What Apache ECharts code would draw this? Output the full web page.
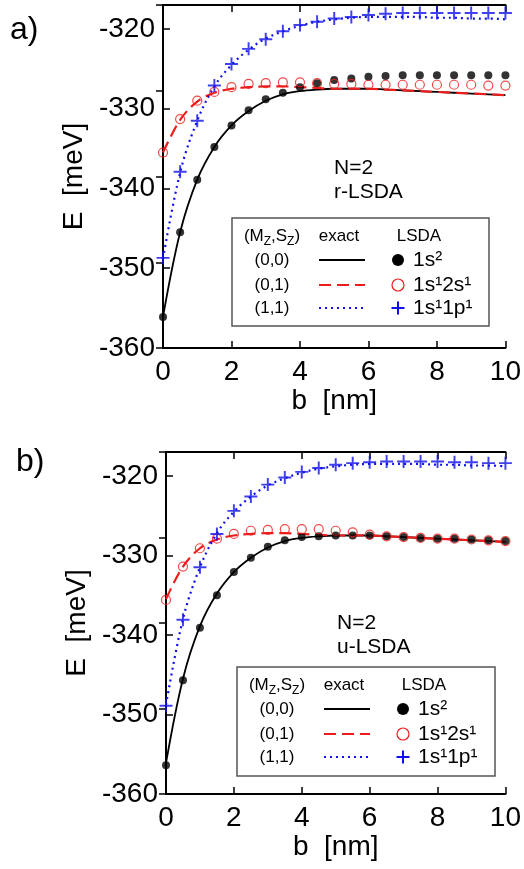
<!DOCTYPE html>
<html>
<head>
<meta charset="utf-8">
<script src="https://cdn.jsdelivr.net/npm/echarts@6/dist/echarts.min.js"></script>
<style>
html,body{margin:0;padding:0;background:#fff;}
#c{width:524px;height:869px;}
</style>
</head>
<body>
<div id="c"></div>
<script>
// ---- data ----
var b = [0,0.5,1,1.5,2,2.5,3,3.5,4,4.5,5,5.5,6,6.5,7,7.5,8,8.5,9,9.5,10];
var xTicks = [0,2,4,6,8,10];
var yTicks = [-360,-350,-340,-330,-320];

var exact00 = [-356.1,-345.5,-338.9,-334.8,-332.1,-330.3,-329.0,-328.2,-327.8,-327.6,-327.5,-327.5,-327.5,-327.6,-327.7,-327.8,-327.9,-328.0,-328.1,-328.2,-328.3];
var exact01 = [-335.5,-331.4,-329.1,-328.0,-327.5,-327.3,-327.2,-327.2,-327.3,-327.4,-327.5,-327.5,-327.5,-327.6,-327.7,-327.8,-327.9,-328.0,-328.1,-328.2,-328.3];
var exact11 = [-348.8,-338.0,-331.5,-327.2,-324.5,-322.6,-321.2,-320.3,-319.6,-319.1,-318.8,-318.6,-318.5,-318.5,-318.5,-318.5,-318.6,-318.6,-318.7,-318.7,-318.8];

var rLSDA_1s2    = [-356.1,-345.5,-338.9,-334.8,-332.1,-330.2,-328.8,-328.0,-327.3,-326.8,-326.4,-326.2,-326.0,-325.9,-325.8,-325.8,-325.8,-325.8,-325.8,-325.8,-325.8];
var rLSDA_1s12s1 = [-335.5,-331.3,-329.0,-327.9,-327.3,-326.9,-326.8,-326.7,-326.7,-326.8,-326.9,-326.9,-327.0,-327.0,-327.0,-327.0,-327.0,-327.0,-327.0,-327.1,-327.1];
var rLSDA_1s11p1 = [-348.7,-337.9,-331.5,-327.1,-324.4,-322.5,-321.3,-320.3,-319.5,-319.1,-318.7,-318.5,-318.25,-318.1,-318.0,-318.0,-318.0,-318.0,-318.0,-318.0,-318.0];

var uLSDA_1s2    = [-356.4,-345.7,-339.1,-335.0,-332.1,-330.3,-328.9,-328.1,-327.7,-327.6,-327.5,-327.5,-327.5,-327.6,-327.7,-327.8,-327.9,-327.9,-328.0,-328.1,-328.2];
var uLSDA_1s12s1 = [-335.6,-331.4,-329.1,-327.9,-327.3,-326.9,-326.8,-326.7,-326.7,-326.7,-326.9,-327.1,-327.4,-327.6,-327.7,-327.8,-327.9,-327.9,-328.0,-328.1,-328.2];
var uLSDA_1s11p1 = [-348.9,-338.1,-331.5,-327.3,-324.4,-322.6,-321.1,-320.2,-319.5,-319.0,-318.6,-318.4,-318.3,-318.2,-318.2,-318.2,-318.2,-318.3,-318.3,-318.4,-318.4];

var panelLabels = ['a)', 'b)'];
var methodLabels = ['r-LSDA', 'u-LSDA'];
var legendStates = ['(0,0)', '(0,1)', '(1,1)'];
var legendLSDA = ['1s\u00b2', '1s\u00b92s\u00b9', '1s\u00b91p\u00b9'];

// ---- styling ----
var FONT = 'Liberation Sans, Arial, Helvetica, sans-serif';
var PLUS = 'path://M8.5,0H11.5V8.5H20V11.5H11.5V20H8.5V11.5H0V8.5H8.5Z';
var BLUE = '#1010ee', RED = '#ee1c1c';

function pair(xs, ys){ return xs.map(function(x,i){ return [x, ys[i]]; }); }

var grids = [
  {left:163, top:5, width:343, height:343},
  {left:166, top:452, width:342, height:342}
];

var xAxes = [], yAxes = [], series = [];
grids.forEach(function(g, gi){
  xAxes.push({
    gridIndex:gi, type:'value', min:xTicks[0], max:xTicks[xTicks.length-1], interval:2, position:'bottom',
    name:'b  [nm]', nameLocation:'middle', nameGap:38,
    nameTextStyle:{fontFamily:FONT, fontSize:28, color:'#000'},
    axisLine:{lineStyle:{color:'#000', width:2}},
    axisTick:{inside:true, length:7, lineStyle:{color:'#000', width:1.5}},
    axisLabel:{fontFamily:FONT, fontSize:28, color:'#000', margin:10},
    splitLine:{show:false}
  });
  xAxes.push({
    gridIndex:gi, type:'value', min:0, max:10, interval:2, position:'top',
    axisLine:{lineStyle:{color:'#000', width:2}},
    axisTick:{inside:true, length:7, lineStyle:{color:'#000', width:1.5}},
    axisLabel:{show:false}, splitLine:{show:false}
  });
  yAxes.push({
    gridIndex:gi, type:'value', min:yTicks[0], max:-317, interval:10, position:'left',
    name:'E  [meV]', nameLocation:'middle', nameGap:70,
    nameTextStyle:{fontFamily:FONT, fontSize:28, color:'#000'},
    axisLine:{lineStyle:{color:'#000', width:2}},
    axisTick:{inside:true, length:7, lineStyle:{color:'#000', width:1.5}},
    axisLabel:{fontFamily:FONT, fontSize:28, color:'#000', margin:8, showMaxLabel:false},
    splitLine:{show:false}
  });
  yAxes.push({
    gridIndex:gi, type:'value', min:0, max:4, interval:1, position:'right',
    axisLine:{lineStyle:{color:'#000', width:2}},
    axisTick:{inside:true, length:7, lineStyle:{color:'#000', width:1.5}},
    axisLabel:{show:false}, splitLine:{show:false}
  });
});

function lineSeries(gi, ys, color, type, width){
  return {type:'line', xAxisIndex:gi*2, yAxisIndex:gi*2, data:pair(b, ys), showSymbol:false,
    smooth:0.35, lineStyle:{color:color, width:width, type:type}, z:2, silent:true, animation:false};
}
function dotSeries(gi, ys, symbol, size, style){
  return {type:'scatter', xAxisIndex:gi*2, yAxisIndex:gi*2, data:pair(b, ys), symbol:symbol,
    symbolSize:size, itemStyle:style, z:3, silent:true, animation:false};
}

var lsda = [[rLSDA_1s2, rLSDA_1s12s1, rLSDA_1s11p1],[uLSDA_1s2, uLSDA_1s12s1, uLSDA_1s11p1]];
[0,1].forEach(function(gi){
  series.push(lineSeries(gi, exact00, '#000', 'solid', 1.8));
  series.push(lineSeries(gi, exact01, RED, [12,6], 2.2));
  series.push(lineSeries(gi, exact11, BLUE, [2,4], 2.2));
  series.push(dotSeries(gi, lsda[gi][0], 'circle', 8, {color:'#000'}));
  series.push(dotSeries(gi, lsda[gi][1], 'circle', 9, {color:'rgba(0,0,0,0)', borderColor:RED, borderWidth:1.2}));
  series.push(dotSeries(gi, lsda[gi][2], PLUS, 13, {color:BLUE}));
});

// ---- annotations / legend table ----
var graphics = [];
var panelPos = [{lx:10, ly:14, nx:334, ny:168, bx:232, by:218, bw:257, bh:108},
                {lx:16, ly:446, nx:337, ny:623, bx:237, by:667, bw:258, bh:109}];
panelPos.forEach(function(p, gi){
  graphics.push({type:'text', left:p.lx, top:p.ly, style:{text:panelLabels[gi], font:'32px '+FONT, fill:'#000'}});
  graphics.push({type:'text', x:p.nx, y:p.ny, style:{text:'N=2', font:'21px '+FONT, fill:'#000', verticalAlign:'middle'}});
  graphics.push({type:'text', x:p.nx, y:p.ny+24, style:{text:methodLabels[gi], font:'21px '+FONT, fill:'#000', verticalAlign:'middle'}});
  graphics.push({type:'rect', shape:{x:p.bx, y:p.by, width:p.bw, height:p.bh},
    style:{fill:'#fff', stroke:'#555', lineWidth:1.5}, z:10});
  var X = p.bx, Y = p.by;
  graphics.push({type:'text', x:X+40, y:Y+18, z:11, style:{
    text:'{a|(M}{s|Z}{a|,S}{s|Z}{a|)}', align:'center', verticalAlign:'middle', fill:'#000',
    rich:{a:{fontFamily:FONT, fontSize:17, lineHeight:24, verticalAlign:'middle'},
          s:{fontFamily:FONT, fontSize:12, lineHeight:12, verticalAlign:'bottom'}}}});
  graphics.push({type:'text', x:X+107, y:Y+18, z:11, style:{text:'exact', font:'17px '+FONT, fill:'#000', align:'center', verticalAlign:'middle'}});
  graphics.push({type:'text', x:X+187, y:Y+18, z:11, style:{text:'LSDA', font:'17px '+FONT, fill:'#000', align:'center', verticalAlign:'middle'}});
  var rows = [Y+42, Y+67, Y+90];
  var lineStyles = [{stroke:'#000', lineWidth:1.8}, {stroke:RED, lineWidth:2.2, lineDash:[12,6]}, {stroke:BLUE, lineWidth:2.2, lineDash:[2,4]}];
  rows.forEach(function(ry, ri){
    graphics.push({type:'text', x:X+40, y:ry, z:11, style:{text:legendStates[ri], font:'17px '+FONT, fill:'#000', align:'center', verticalAlign:'middle'}});
    graphics.push({type:'line', z:11, shape:{x1:X+87, y1:ry, x2:X+133, y2:ry}, style:lineStyles[ri]});
    graphics.push({type:'text', x:X+181, y:ry, z:11, style:{text:legendLSDA[ri], font:'21px '+FONT, fill:'#000', align:'left', verticalAlign:'middle'}});
  });
  graphics.push({type:'circle', z:11, shape:{cx:X+166, cy:rows[0], r:6}, style:{fill:'#000'}});
  graphics.push({type:'circle', z:11, shape:{cx:X+166, cy:rows[1], r:6}, style:{fill:'none', stroke:RED, lineWidth:1.2}});
  graphics.push({type:'line', z:11, shape:{x1:X+159.5, y1:rows[2], x2:X+172.5, y2:rows[2]}, style:{stroke:BLUE, lineWidth:2}});
  graphics.push({type:'line', z:11, shape:{x1:X+166, y1:rows[2]-6.5, x2:X+166, y2:rows[2]+6.5}, style:{stroke:BLUE, lineWidth:2}});
});

var chart = echarts.init(document.getElementById('c'), null, {renderer:'canvas'});
chart.setOption({
  animation:false,
  backgroundColor:'#fff',
  grid: grids.map(function(g){ return Object.assign({containLabel:false, show:false}, g); }),
  xAxis: xAxes,
  yAxis: yAxes,
  series: series,
  graphic: graphics
});
</script>
</body>
</html>
